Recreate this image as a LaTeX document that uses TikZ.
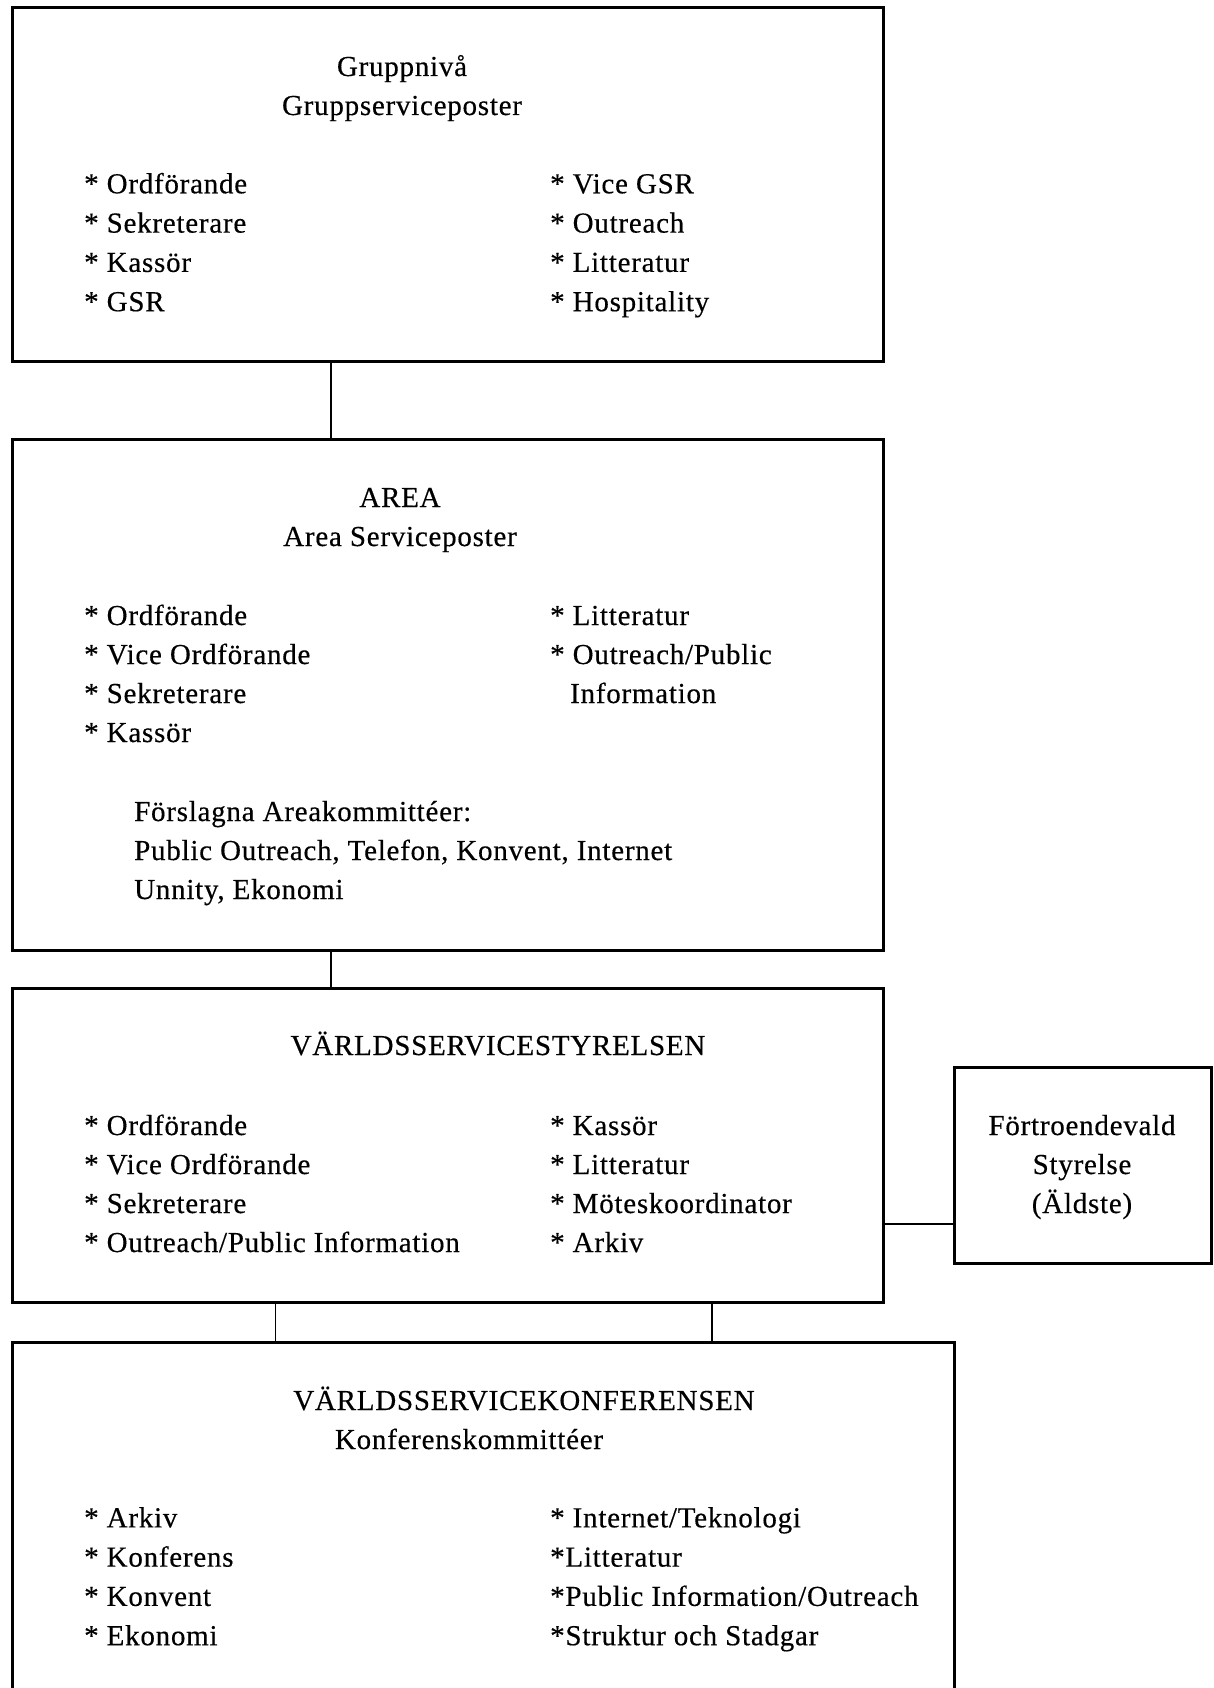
\documentclass[tikz,border=0pt]{standalone}
\usepackage{fontspec}
\setmainfont{Liberation Serif}[LetterSpace=2.6,FakeBold=0.4]
\begin{document}
\begin{tikzpicture}[x=1pt,y=-1pt,
    box/.style={draw,line width=3pt,inner sep=0pt,outer sep=0pt,anchor=north west},
    entry/.style={anchor=base west,inner sep=0pt,font=\fontsize{29}{39}\selectfont},
    head/.style={anchor=base,inner sep=0pt,font=\fontsize{29}{39}\selectfont},
    link/.style={line width=2.2pt}]

    \useasboundingbox (0,0) rectangle (1214,1688);
    \clip (0,0) rectangle (1214,1688);

    \node[box,minimum width=871,minimum height=353] (grupp) at (12,8) {};
    \node[box,minimum width=871,minimum height=511] (area) at (12,439) {};
    \node[box,minimum width=871,minimum height=314] (wsb) at (12,988) {};
    \node[box,minimum width=257,minimum height=196] (elder) at (954,1067) {};
    \node[box,minimum width=942,minimum height=400] (wsc) at (12,1342) {};

    \coordinate (xa) at (331,0);
    \coordinate (xb) at (275,0);
    \coordinate (xc) at (712,0);
    \coordinate (ye) at (0,1224);

    \draw[link] (grupp.south -| xa) -- (area.north -| xa);
    \draw[link] (area.south -| xa) -- (wsb.north -| xa);
    \draw[line width=1pt] (wsb.south -| xb) -- (wsc.north -| xb);
    \draw[link] (wsb.south -| xc) -- (wsc.north -| xc);
    \draw[link] (wsb.east |- ye) -- (elder.west |- ye);

    % Gruppnivå
    \node[head] (gruppt) at (402,76) {Gruppnivå};
    \node[head] (gruppst) at (402,115) {Gruppserviceposter};
    \foreach \t [count=\i] in {Ordförande,Sekreterare,Kassör,GSR}
        \node[entry] (gl\i) at (84,{154+39.3*\i}) {* \t};
    \foreach \t [count=\i] in {Vice GSR,Outreach,Litteratur,Hospitality}
        \node[entry] (gr\i) at (550,{154+39.3*\i}) {* \t};

    % Area
    \node[head] (areat) at (400,507) {AREA};
    \node[head] (areast) at (400,546) {Area Serviceposter};
    \foreach \t [count=\i] in {Ordförande,Vice Ordförande,Sekreterare,Kassör}
        \node[entry] (al\i) at (84,{586+39*\i}) {* \t};
    \node[entry] (ar1) at (550,625) {* Litteratur};
    \node[entry] (ar2) at (550,664) {* Outreach/Public};
    \node[entry] (ar3) at (570,703) {Information};
    \node[entry] (ak1) at (134,821) {Förslagna Areakommittéer:};
    \node[entry] (ak2) at (134,860) {Public Outreach, Telefon, Konvent, Internet};
    \node[entry] (ak3) at (134,899) {Unnity, Ekonomi};

    % Världsservicestyrelsen
    \node[head] (wsbt) at (498,1055) {VÄRLDSSERVICESTYRELSEN};
    \foreach \t [count=\i] in {Ordförande,Vice Ordförande,Sekreterare,Outreach/Public Information}
        \node[entry] (bl\i) at (84,{1096+39*\i}) {* \t};
    \foreach \t [count=\i] in {Kassör,Litteratur,Möteskoordinator,Arkiv}
        \node[entry] (br\i) at (550,{1096+39*\i}) {* \t};

    \node[head] (el1) at (1082,1135) {Förtroendevald};
    \node[head] (el2) at (1082,1174) {Styrelse};
    \node[head] (el3) at (1082,1213) {(Äldste)};

    % Världsservicekonferensen
    \node[head] (wsct) at (524,1410) {VÄRLDSSERVICEKONFERENSEN};
    \node[head] (wscst) at (469,1449) {Konferenskommittéer};
    \foreach \t [count=\i] in {Arkiv,Konferens,Konvent,Ekonomi}
        \node[entry] (cl\i) at (84,{1488+39.3*\i}) {* \t};
    \foreach \t [count=\i] in {* Internet/Teknologi,*Litteratur,*Public Information/Outreach,*Struktur och Stadgar}
        \node[entry] (cr\i) at (550,{1488+39.3*\i}) {\t};

\end{tikzpicture}
\end{document}
